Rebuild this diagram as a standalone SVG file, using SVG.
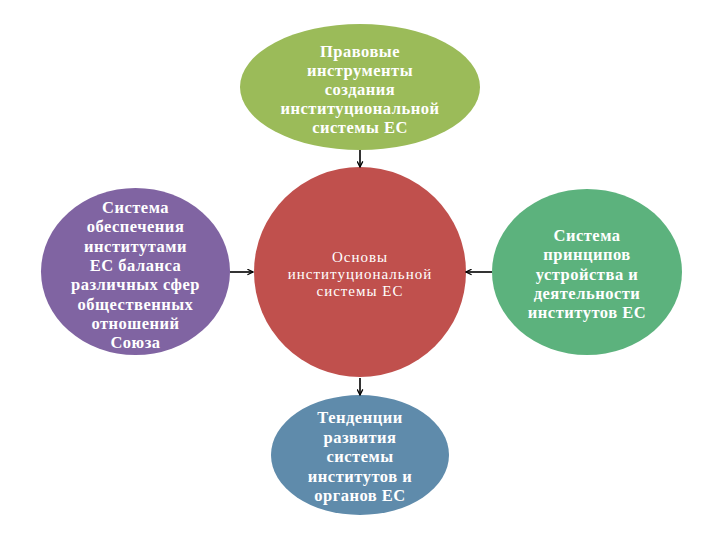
<svg xmlns="http://www.w3.org/2000/svg" width="720" height="540" viewBox="0 0 720 540">
<defs>
<style>
.t{font-family:"Liberation Serif","DejaVu Serif",serif;font-weight:bold;font-size:16.5px;letter-spacing:0.5px;fill:#fff;text-anchor:middle}
.c{font-family:"Liberation Serif","DejaVu Serif",serif;font-size:15px;letter-spacing:1px;fill:#fff;text-anchor:middle}
.l{stroke:#000;stroke-width:1.6;fill:none}
</style>
<marker id="ah" viewBox="0 0 10 10" refX="9" refY="5" markerWidth="7" markerHeight="7" markerUnits="userSpaceOnUse" orient="auto">
<path d="M1,1 L9,5 L1,9" fill="none" stroke="#000" stroke-width="1.8"/>
</marker>
</defs>
<rect width="720" height="540" fill="#fff"/>
<g id="center">
<ellipse cx="360" cy="272" rx="106" ry="105" fill="#C0504D"/>
<text class="c"><tspan x="360" y="262">Основы</tspan><tspan x="360" y="279">институциональной</tspan><tspan x="360" y="296">системы ЕС</tspan></text>
</g>
<g id="top">
<ellipse cx="360" cy="87" rx="120" ry="63" fill="#9BBB59"/>
<text class="t"><tspan x="360" y="57">Правовые</tspan><tspan x="360" y="76">инструменты</tspan><tspan x="360" y="95">создания</tspan><tspan x="360" y="114">институциональной</tspan><tspan x="360" y="133">системы ЕС</tspan></text>
</g>
<g id="left">
<ellipse cx="135.5" cy="271.5" rx="94.5" ry="83.5" fill="#8064A2"/>
<text class="t"><tspan x="135.5" y="213">Система</tspan><tspan x="135.5" y="232.3">обеспечения</tspan><tspan x="135.5" y="251.6">институтами</tspan><tspan x="135.5" y="270.9">ЕС баланса</tspan><tspan x="135.5" y="290.2">различных сфер</tspan><tspan x="135.5" y="309.5">общественных</tspan><tspan x="135.5" y="328.8">отношений</tspan><tspan x="135.5" y="348">Союза</tspan></text>
</g>
<g id="right">
<ellipse cx="587" cy="272" rx="95" ry="83" fill="#5CB27D"/>
<text class="t"><tspan x="587" y="241">Система</tspan><tspan x="587" y="260.3">принципов</tspan><tspan x="587" y="279.6">устройства и</tspan><tspan x="587" y="298.9">деятельности</tspan><tspan x="587" y="318">институтов ЕС</tspan></text>
</g>
<g id="bottom">
<ellipse cx="360" cy="455" rx="89" ry="60" fill="#5F8BAB"/>
<text class="t"><tspan x="360" y="423">Тенденции</tspan><tspan x="360" y="442.5">развития</tspan><tspan x="360" y="462">системы</tspan><tspan x="360" y="481.5">институтов и</tspan><tspan x="360" y="501">органов ЕС</tspan></text>
</g>
<g id="connectors">
<line class="l" x1="360" y1="150" x2="360" y2="167" marker-end="url(#ah)"/>
<line class="l" x1="230" y1="272" x2="253" y2="272" marker-end="url(#ah)"/>
<line class="l" x1="492" y1="272" x2="466" y2="272" marker-end="url(#ah)"/>
<line class="l" x1="360" y1="378" x2="360" y2="395" marker-end="url(#ah)"/>
</g>
</svg>
